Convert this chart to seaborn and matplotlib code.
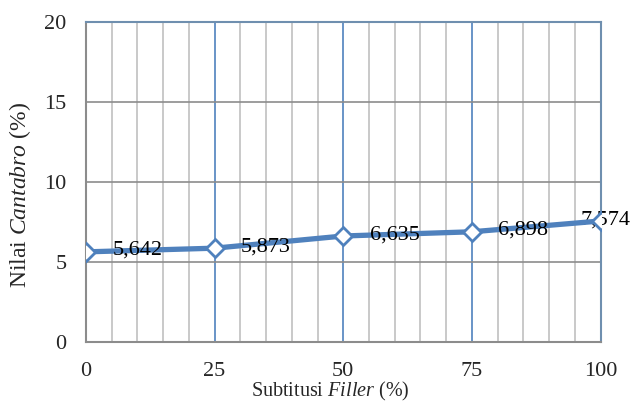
import numpy as np
import pandas as pd
import matplotlib
matplotlib.use("Agg")
import matplotlib.pyplot as plt
import seaborn as sns

# Data
filler = [0, 25, 50, 75, 100]
cantabro = [5.642, 5.873, 6.635, 6.898, 7.574]
labels = ["5,642", "5,873", "6,635", "6,898", "7,574"]

df = pd.DataFrame({"filler": filler, "cantabro": cantabro})

sns.set_style("white")
plt.rcParams['font.family'] = ['Liberation Serif', 'DejaVu Serif']
plt.rcParams['mathtext.fontset'] = 'custom'
plt.rcParams['mathtext.rm'] = 'Liberation Serif'
plt.rcParams['mathtext.it'] = 'Liberation Serif:italic'

blue = '#4F81BD'

fig = plt.figure(figsize=(6.31, 4.03), dpi=100)
ax = fig.add_axes([0.136, 0.151, 0.816, 0.794])

# grid lines
for x in np.arange(5, 100, 5):
    if x % 25 == 0:
        ax.axvline(x, color=blue, lw=1.2, zorder=1)
    else:
        ax.axvline(x, color='#C0C0C0', lw=1.2, zorder=1)
for y in [5, 10, 15]:
    ax.axhline(y, color='#8C8C8C', lw=1.2, zorder=1)

sns.lineplot(data=df, x='filler', y='cantabro', ax=ax, color=blue, lw=3.8,
             marker='D', markersize=9.5, markerfacecolor='white',
             markeredgecolor=blue, markeredgewidth=2, zorder=3)

for i, (xv, yv, lab) in enumerate(zip(filler, cantabro, labels)):
    dx = 19 if i < len(filler) - 1 else -14.5
    ax.annotate(lab, (xv, yv), xytext=(dx, 1), textcoords='offset points',
                ha='left', va='center', fontsize=16, color='black',
                zorder=2 if i == len(filler) - 1 else 4, annotation_clip=False)

ax.set_xlim(0, 100)
ax.set_ylim(0, 20)
ax.set_xticks([0, 25, 50, 75, 100])
ax.set_yticks([0, 5, 10, 15, 20])
ax.tick_params(axis='both', length=0, labelsize=16)
ax.tick_params(axis='x', pad=14)
ax.tick_params(axis='y', pad=14)

for side in ['left', 'bottom']:
    ax.spines[side].set_color('#8C8C8C')
    ax.spines[side].set_linewidth(1.5)
for side in ['top', 'right']:
    ax.spines[side].set_color('#6F8FAF')
    ax.spines[side].set_linewidth(1.5)

ax.set_xlabel(r'Subtitusi $\it{Filler}$ (%)', fontsize=14.5)
ax.set_ylabel(r'Nilai $\it{Cantabro}$ (%)', fontsize=17)
ax.xaxis.set_label_coords(0.474, -0.117)
ax.yaxis.set_label_coords(-0.102, 0.46)

fig.savefig('out.png', dpi=100)
